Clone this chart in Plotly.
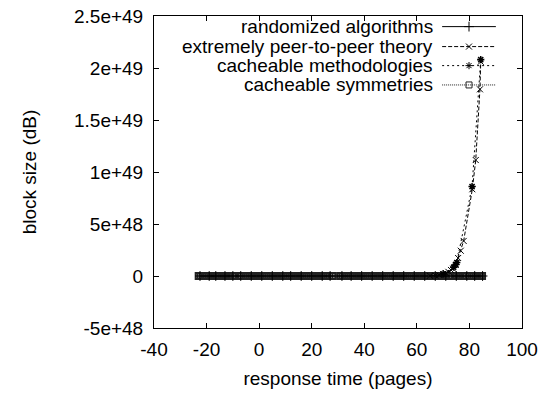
import plotly.graph_objects as go

# ---- data ----
rand_x = [-22.5, -19, -16.5, -13, -10, -7, -3, 1, 5, 9, 12, 16, 20, 24, 27, 31.5,
          35, 39, 43, 47, 51, 55, 59, 63, 67, 71, 75, 79, 82, 85]
rand_y = [0, 0, 0, 0, 0, 0, 0, 0, 0, 0, 0, 0, 0, 0, 0, 0,
          0, 0, 0, 0, 0, 0, 0, 0, 0, 0, 0, 0, 0, 0]

peer_x = [65, 67, 68.5, 70, 71, 72, 73, 73.8, 74.8, 75.7, 76.7, 77.8, 81.1, 82.4, 84.0, 84.3]
peer_y = [0.02e48, 0.05e48, 0.1e48, 0.2e48, 0.29e48, 0.4e48, 0.58e48, 0.7e48, 1.06e48,
          1.73e48, 2.43e48, 3.37e48, 8.34e48, 11.15e48, 17.95e48, 20.6e48]

meth_x = [70, 74, 74.8, 75.2, 81.0, 84.3]
meth_y = [0.2e48, 0.85e48, 1.1e48, 1.3e48, 8.6e48, 20.8e48]

sym_x = [-23, -22.3, -21.5, -20.7, -20, -19.2, -18.4, -17.3, -16.5, -15.7, -15, -14.2,
         -13.4, -12.6, -11.8, -11, -10.2, -9.3,
         -7.5, -6.8, -6, -5.2, -4.4, -3.6, -2.8, -2, -1.2, -0.4, 0.4, 1.2, 2, 2.8, 3.6,
         4.4, 5.2, 6, 6.8, 7.6, 8.4, 9.2, 10, 10.8, 11.6, 12.4, 13.2, 14, 14.8, 15.6,
         16.4, 17.2, 18, 18.8, 19.6, 20.4, 21.2, 22, 22.8, 23.6, 24.4, 25.2, 26, 26.8,
         27.8,
         30.8, 31.6, 32.4, 33.2, 34, 34.8, 35.6, 36.4, 37.2, 38, 38.8, 39.6, 40.4, 41.2,
         42, 42.8, 43.6, 44.4, 45.2, 46, 46.8, 47.6, 48.4, 49.2, 50, 50.8, 51.6, 52.4,
         53.2, 54, 54.8, 55.6, 56.4, 57.2, 58, 58.8, 59.6, 60.4, 61.2, 62, 62.8, 63.6,
         64.5,
         66.3, 67.1, 67.9, 68.7, 69.5, 70.3, 71.1, 72.3,
         73.5, 74.3, 75.1, 75.9, 76.7, 77.5, 78.6,
         80, 80.8, 81.6, 82.4, 83.2, 84, 84.8]
sym_y = [0, 0, 0, 0, 0, 0, 0, 0, 0, 0, 0, 0,
         0, 0, 0, 0, 0, 0,
         0, 0, 0, 0, 0, 0, 0, 0, 0, 0, 0, 0, 0, 0, 0,
         0, 0, 0, 0, 0, 0, 0, 0, 0, 0, 0, 0, 0, 0, 0,
         0, 0, 0, 0, 0, 0, 0, 0, 0, 0, 0, 0, 0, 0,
         0,
         0, 0, 0, 0, 0, 0, 0, 0, 0, 0, 0, 0, 0, 0,
         0, 0, 0, 0, 0, 0, 0, 0, 0, 0, 0, 0, 0, 0,
         0, 0, 0, 0, 0, 0, 0, 0, 0, 0, 0, 0, 0, 0,
         0,
         0, 0, 0, 0, 0, 0, 0, 0,
         0, 0, 0, 0, 0, 0, 0,
         0, 0, 0, 0, 0, 0, 0]

series_names = ["randomized algorithms", "extremely peer-to-peer theory",
                "cacheable methodologies", "cacheable symmetries"]

x_ticks = [-40, -20, 0, 20, 40, 60, 80, 100]
y_ticks = [-5e48, 0, 5e48, 1e49, 1.5e49, 2e49, 2.5e49]
y_ticktext = ["-5e+48", "0", "5e+48", "1e+49", "1.5e+49", "2e+49", "2.5e+49"]

# ---- styles ----
FONT = "Liberation Sans, Arial, sans-serif"
FS = 19
LFS = 19
styles = [
    dict(dash="solid", symbol="cross-thin-open", color="black", size=7, lw=1),
    dict(dash="4px,2px", symbol="x-thin-open", color="black", size=6, lw=1),
    dict(dash="2px,3px", symbol="asterisk-open", color="black", size=6, lw=1.5),
    dict(dash="1px,1px", symbol="square-open", color="#222222", size=6, lw=2),
]

fig = go.Figure()
data = [(rand_x, rand_y), (peer_x, peer_y), (meth_x, meth_y), (sym_x, sym_y)]
order = [3, 0, 2, 1]
for i in order:
    xs, ys = data[i]
    st = styles[i]
    fig.add_trace(go.Scatter(
        x=xs, y=ys, mode="lines+markers", name=series_names[i], showlegend=False,
        line=dict(color=st["color"], width=1, dash=st["dash"]),
        marker=dict(symbol=st["symbol"], size=st["size"], color=st["color"],
                    line=dict(width=st["lw"], color=st["color"])),
    ))

# ---- custom legend (sample on the right of right-aligned text) ----
leg_rows = [0.966, 0.902, 0.841, 0.779]
lx0, lx1, lxm, ltext = 0.783, 0.929, 0.856, 0.762
for i, name in enumerate(series_names):
    st = styles[i]
    fig.add_trace(go.Scatter(
        x=[lx0, lx1], y=[leg_rows[i], leg_rows[i]], mode="lines", xaxis="x2", yaxis="y2",
        showlegend=False, hoverinfo="skip",
        line=dict(color=st["color"], width=1, dash=st["dash"])))
    fig.add_trace(go.Scatter(
        x=[lxm], y=[leg_rows[i]], mode="markers", xaxis="x2", yaxis="y2",
        showlegend=False, hoverinfo="skip",
        marker=dict(symbol=st["symbol"], size=st["size"], color=st["color"],
                    line=dict(width=1, color=st["color"]))))
    fig.add_annotation(x=ltext, y=leg_rows[i], xref="x2", yref="y2", text=name,
                       showarrow=False, xanchor="right", yanchor="middle", borderpad=0,
                       font=dict(family=FONT, size=LFS, color="black"))

axis_common = dict(showline=True, linecolor="black", linewidth=1, mirror="ticks",
                   ticks="inside", ticklen=5, tickcolor="black", showgrid=False,
                   zeroline=False, automargin=False,
                   tickfont=dict(family=FONT, size=FS, color="black"))

fig.update_layout(
    width=542, height=394,
    margin=dict(l=154, r=20, t=16, b=66),
    paper_bgcolor="white", plot_bgcolor="white",
    showlegend=False,
    xaxis=dict(range=[-40, 100], tickvals=x_ticks, ticktext=[str(v) for v in x_ticks],
               ticklabelstandoff=4,
               title=dict(text="response time (pages)", font=dict(family=FONT, size=FS, color="black"),
                          standoff=12),
               **axis_common),
    yaxis=dict(range=[-5e48, 2.5e49], tickvals=y_ticks, ticktext=y_ticktext,
               ticklabelstandoff=6,
               title=dict(text="block size (dB)", font=dict(family=FONT, size=FS, color="black"),
                          standoff=32),
               **axis_common),
    xaxis2=dict(overlaying="x", range=[0, 1], visible=False, anchor="y2"),
    yaxis2=dict(overlaying="y", range=[0, 1], visible=False, anchor="x2"),
)

fig.write_html("out.html")
